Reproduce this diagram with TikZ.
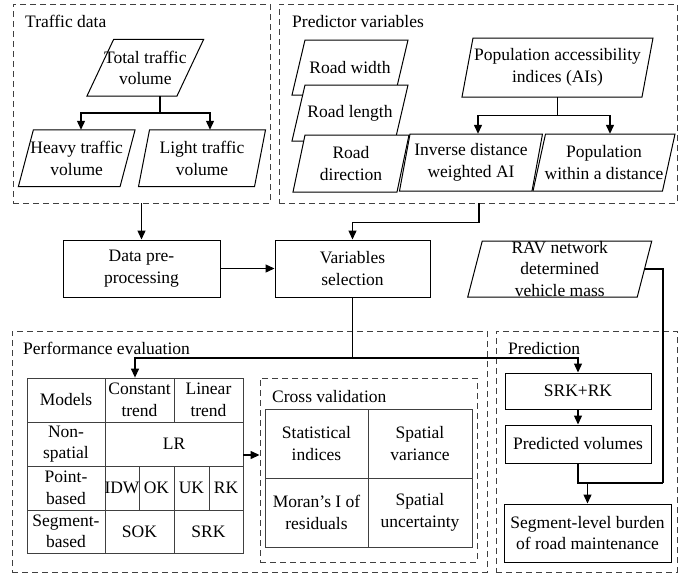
\documentclass[tikz,border=0pt]{standalone}
\usepackage{fontspec}
\setmainfont{Liberation Serif}
\usetikzlibrary{arrows.meta}
\tikzset{
 lbl/.style={anchor=base west, inner sep=0pt},
 dbox/.style={draw=black!75, dash pattern=on 6pt off 4pt, line width=0.9pt, inner sep=0pt},
 sbox/.style={draw, line width=1pt, align=center, inner sep=0pt},
 txt/.style={align=center, inner sep=0pt},
 arr/.style={line width=1.3pt, -{Triangle[length=9pt,width=8pt]}},
 ln/.style={line width=1.3pt},
 pgshape/.style={draw, line width=1pt, fill=white, line join=miter},
 gridline/.style={draw=black!75, line width=0.8pt},
}
\newcommand{\pgnode}[7]{%
 \path[pgshape] ({#2-#4/2+#6/2},{#3-#5/2}) -- ({#2+#4/2+#6/2},{#3-#5/2}) -- ({#2+#4/2-#6/2},{#3+#5/2}) -- ({#2-#4/2-#6/2},{#3+#5/2}) -- cycle;
 \node[txt, minimum width=#4pt, minimum height=#5pt] (#1) at (#2,#3) {#7};
}
\begin{document}
\fontsize{17.5pt}{21.5pt}\selectfont
\begin{tikzpicture}[x=1pt, y=-1pt]
\useasboundingbox (0,0) rectangle (683,574);

% dashed group boxes
\node[dbox, minimum width=257pt, minimum height=199pt] (tbox) at (141.5,103.5) {};
\node[dbox, minimum width=398pt, minimum height=199pt] (pbox) at (478,103.5) {};
\node[dbox, minimum width=475pt, minimum height=241pt] (perf) at (249.5,451.5) {};
\node[dbox, minimum width=181pt, minimum height=241pt] (pred) at (586.5,451.5) {};
\node[dbox, minimum width=217pt, minimum height=184pt] (cvbox) at (368.5,470) {};

% group labels
\node[lbl] (ltd) at (25,27.5) {Traffic data};
\node[lbl] (lpv) at (292,27.5) {Predictor variables};
\node[lbl] (lpe) at (23,354) {Performance evaluation};
\node[lbl] (lpr) at (508,354) {Prediction};
\node[lbl] (lcv) at (272,402) {Cross validation};

% traffic data
\pgnode{TT}{145.3}{67.7}{90}{56.7}{26.7}{Total traffic\\volume}
\pgnode{HV}{76.7}{158.3}{101.7}{56.7}{15}{Heavy traffic\\volume}
\pgnode{LT}{202}{158.3}{116}{56.7}{11}{Light traffic\\volume}

% predictor variables
\pgnode{RW}{350}{67.5}{103}{55}{13}{Road width}
\pgnode{RL}{350}{113}{103}{56}{13}{Road length}
\pgnode{RD}{351}{163.5}{104}{57}{12}{Road\\direction}
\pgnode{PA}{557.5}{67.5}{180}{59}{11}{Population accessibility\\indices (AIs)}
\pgnode{IV}{471}{162.5}{132.5}{57}{10.5}{Inverse distance\\weighted AI}
\pgnode{PW}{604}{162.5}{129.5}{57}{12.5}{Population\\within a distance}

% middle row
\node[sbox, minimum width=157pt, minimum height=57pt] (data) at (141.5,268.5) {Data pre-\\processing};
\node[sbox, minimum width=155pt, minimum height=57pt] (var) at (352.5,268.5) {Variables\\selection};
\pgnode{rav}{559.75}{269}{169.5}{56}{14.5}{RAV network\\determined\\vehicle mass}

% prediction
\node[sbox, minimum width=146pt, minimum height=36pt] (srk) at (578,391) {SRK+RK};
\node[sbox, minimum width=146pt, minimum height=38pt] (pv) at (578,444) {Predicted volumes};
\node[sbox, minimum width=167pt, minimum height=58pt] (seg) at (587.5,533) {Segment-level burden\\of road maintenance};

% models table
\node[gridline, minimum width=216pt, minimum height=175pt, inner sep=0pt] (tab) at (135,465.5) {};
\draw[gridline] (27,422) -- (243,422);
\draw[gridline] (27,466) -- (243,466);
\draw[gridline] (27,510) -- (243,510);
\draw[gridline] (105,378) -- (105,553);
\draw[gridline] (174,378) -- (174,422);
\draw[gridline] (174,466) -- (174,553);
\draw[gridline] (139,466) -- (139,510);
\draw[gridline] (209,466) -- (209,510);
\node[txt] (c11) at (66,400) {Models};
\node[txt] (c12) at (139.5,400) {Constant\\trend};
\node[txt] (c13) at (208.5,400) {Linear\\trend};
\node[txt] (c21) at (66,444) {Non-\\spatial};
\node[txt] (c22) at (174,444) {LR};
\node[txt] (c31) at (66,488) {Point-\\based};
\node[txt] (c32) at (122,488) {IDW};
\node[txt] (c33) at (156.5,488) {OK};
\node[txt] (c34) at (191.5,488) {UK};
\node[txt] (c35) at (226,488) {RK};
\node[txt] (c41) at (66,531.5) {Segment-\\based};
\node[txt] (c42) at (139.5,531.5) {SOK};
\node[txt] (c43) at (208.5,531.5) {SRK};

% cross validation table
\node[gridline, minimum width=207pt, minimum height=138pt, inner sep=0pt] (cvt) at (368.5,478) {};
\draw[gridline] (368,409) -- (368,547);
\draw[gridline] (265,478) -- (472,478);
\node[txt] (v11) at (316.5,443.5) {Statistical\\indices};
\node[txt] (v12) at (420,443.5) {Spatial\\variance};
\node[txt] (v21) at (316.5,512.5) {Moran’s I of\\residuals};
\node[txt] (v22) at (420,512.5) {Spatial\\uncertainty};

% connectors
\draw[ln] (TT.south -| 160,0) -- (160,113) coordinate (j1);
\draw[arr] (j1) -| ([xshift=4.3pt]HV.north);
\draw[arr] (j1) -| ([xshift=8pt]LT.north);
\draw[ln] (PA.south) -- ++(0,18) coordinate (j2);
\draw[arr] (j2) -| ([xshift=7pt]IV.north);
\draw[arr] (j2) -| ([xshift=6pt]PW.north);
\draw[arr] (tbox.south -| data.north) -- (data.north);
\draw[arr] ([xshift=1pt]pbox.south) -- ++(0,19) -| (var.north);
\draw[arr] (data.east) -- (var.west);
\draw[ln] (var.south) -- (var.south |- 0,358) coordinate (j3);
\draw[arr] (j3) -| (tab.north);
\draw[arr] (j3) -| (srk.north);
\draw[arr] (srk.south) -- (pv.north);
\coordinate (t1) at ([yshift=10.5pt]tab.east);
\draw[arr] (t1) -- (t1 -| cvbox.west);
\coordinate (r1) at (663,483);
\draw[ln] (rav.east) -| (r1);
\draw[ln] (pv.south) |- (r1);
\draw[arr] (seg.north |- r1) -- (seg.north);
\end{tikzpicture}
\end{document}
